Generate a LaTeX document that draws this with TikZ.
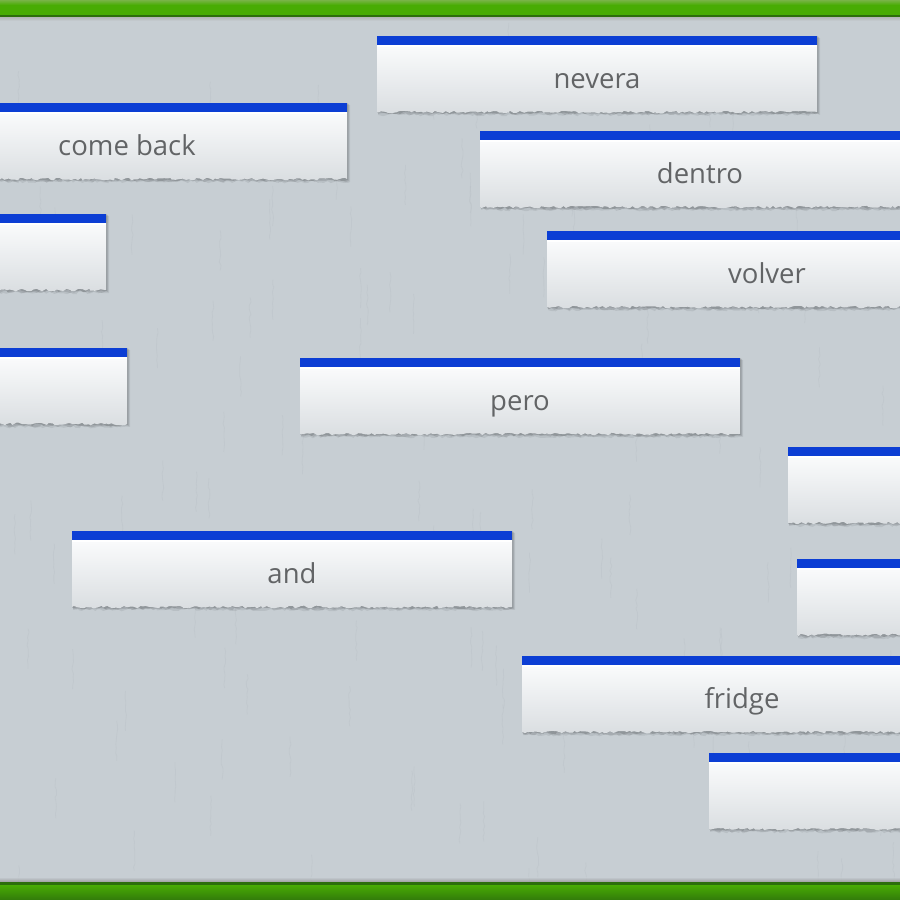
\documentclass[tikz,border=0pt]{standalone}
\usepackage{fontspec}
\setmainfont{Open Sans}
\usetikzlibrary{decorations.pathmorphing}
\definecolor{bg}{RGB}{199,206,211}
\definecolor{bgdark}{RGB}{184,191,197}
\definecolor{gtop}{RGB}{120,180,70}
\definecolor{gmid}{RGB}{72,172,4}
\definecolor{gdark}{RGB}{44,110,12}
\definecolor{cardtop}{RGB}{250,251,252}
\definecolor{cardbot}{RGB}{218,222,225}
\definecolor{cardblue}{RGB}{12,62,212}
\definecolor{txt}{RGB}{98,100,102}
\tikzset{
  cardtext/.style={font=\fontsize{27.5}{32}\selectfont, text=txt, anchor=base, inner sep=0pt},
  torn/.style={decoration={random steps,segment length=3pt,amplitude=1.3pt}},
}
\newcommand\tornCard[4]{%
  % shadow layers
  \fill[black,opacity=0.07,torn] (#2+1,#3+2) -- (#2+443,#3+2) -- (#2+443,#3+79) decorate {-- (#2+1,#3+79)} -- cycle;
  \fill[black,opacity=0.10,torn] (#2+1,#3+1) -- (#2+442,#3+1) -- (#2+442,#3+78) decorate {-- (#2+1,#3+78)} -- cycle;
  \fill[black,opacity=0.12,torn] (#2,#3) -- (#2+441,#3) -- (#2+441,#3+77) decorate {-- (#2,#3+77)} -- cycle;
  % body
  \path[top color=cardtop,bottom color=cardbot,torn] (#2,#3+9) -- (#2+440,#3+9) -- (#2+440,#3+76) decorate {-- (#2,#3+76)} -- cycle;
  \fill[white] (#2,#3+9) rectangle (#2+440,#3+11);
  \fill[cardblue] (#2,#3) rectangle (#2+440,#3+9);
  \node[cardtext] (#1) at (#2+220,#3+52) {#4};
}
\begin{document}
\begin{tikzpicture}[x=1pt,y=-1pt]
\useasboundingbox (0,0) rectangle (900,900);
\clip (0,0) rectangle (900,900);
\fill[bg] (0,0) rectangle (900,900);
\pgfmathsetseed{7}
% faint texture
\foreach \i in {0,...,140} {
  \pgfmathsetmacro\xx{rnd*900}
  \pgfmathsetmacro\yy{20+rnd*860}
  \draw[bgdark,opacity=0.35,line width=0.8pt,decoration={random steps,segment length=4pt,amplitude=1pt},decorate] (\xx,\yy) -- ++(0,40);
}
% top green bar
\shade[top color=gtop,bottom color=gmid] (0,0) rectangle (900,5);
\fill[gmid] (0,5) rectangle (900,15);
\fill[gdark] (0,15) rectangle (900,17);
\shade[top color=black!35,bottom color=bg,opacity=0.6] (0,17) rectangle (900,21);
% bottom green bar
\shade[top color=bg,bottom color=black!45,opacity=0.7] (0,877) rectangle (900,882);
\fill[gdark] (0,882) rectangle (900,885);
\shade[top color=gmid,bottom color=gdark!80!gmid] (0,885) rectangle (900,900);
% cards
\tornCard{nevera}{377}{36}{nevera}
\tornCard{comeback}{-93}{103}{come back}
\tornCard{dentro}{480}{131}{dentro}
\tornCard{cardA}{-334}{214}{}
\tornCard{volver}{547}{231}{volver}
\tornCard{cardB}{-313}{348}{}
\tornCard{pero}{300}{358}{pero}
\tornCard{cardC}{788}{447}{}
\tornCard{and}{72}{531}{and}
\tornCard{cardD}{797}{559}{}
\tornCard{fridge}{522}{656}{fridge}
\tornCard{cardE}{709}{753}{}
\end{tikzpicture}
\end{document}
